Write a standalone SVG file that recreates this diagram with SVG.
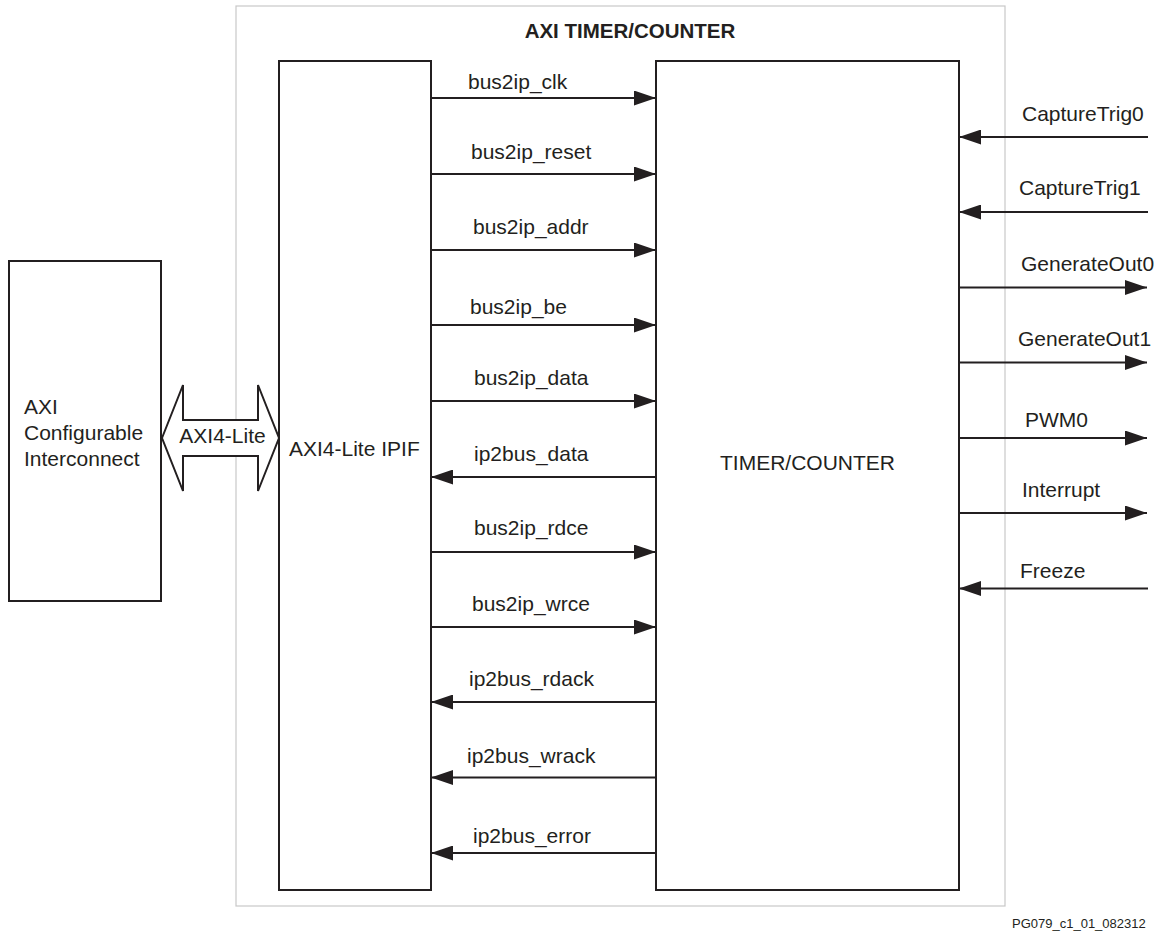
<svg xmlns="http://www.w3.org/2000/svg" width="1165" height="932" viewBox="0 0 1165 932">
<style>
text{font-family:"Liberation Sans",Arial,sans-serif;fill:#231f20}
.lbl{font-size:21px}
.box{fill:none;stroke:#231f20;stroke-width:2}
.wire{stroke:#231f20;stroke-width:2.2;fill:none;marker-end:url(#ah)}
</style>
<defs>
<marker id="ah" markerUnits="userSpaceOnUse" markerWidth="22" markerHeight="15" refX="22" refY="7.5" orient="auto" viewBox="0 0 22 15">
<path d="M0,0 L22,7.5 L0,15 z" fill="#231f20"/>
</marker>
</defs>
<rect width="1165" height="932" fill="#fff"/>
<g id="outer">
<rect x="236" y="6" width="769" height="900" fill="none" stroke="#c8c8c8" stroke-width="1.2"/>
<text x="630" y="38" text-anchor="middle" font-size="20.5" font-weight="bold">AXI TIMER/COUNTER</text>
</g>
<g id="interconnect">
<rect class="box" x="9" y="261" width="152" height="340"/>
<text class="lbl" x="24" y="414">AXI</text>
<text class="lbl" x="24" y="440">Configurable</text>
<text class="lbl" x="24" y="466">Interconnect</text>
</g>
<g id="ipif">
<rect class="box" x="279" y="61" width="152" height="829"/>
<text class="lbl" x="289" y="456">AXI4-Lite IPIF</text>
</g>
<g id="timer">
<rect class="box" x="656" y="61" width="303" height="829"/>
<text class="lbl" x="807.5" y="470" text-anchor="middle">TIMER/COUNTER</text>
</g>
<g id="connectors">
<g id="axi4lite">
<polygon points="162,438 183,385 183,420 258,420 258,385 279,438 258,491 258,456 183,456 183,491" fill="#fff" stroke="#231f20" stroke-width="2" stroke-linejoin="miter"/>
<text class="lbl" x="222.5" y="443" text-anchor="middle">AXI4-Lite</text>
</g>
<line class="wire" x1="431" y1="98" x2="656" y2="98"/>
<line class="wire" x1="431" y1="174" x2="656" y2="174"/>
<line class="wire" x1="431" y1="250" x2="656" y2="250"/>
<line class="wire" x1="431" y1="325" x2="656" y2="325"/>
<line class="wire" x1="431" y1="401" x2="656" y2="401"/>
<line class="wire" x1="656" y1="477" x2="431" y2="477"/>
<line class="wire" x1="431" y1="552" x2="656" y2="552"/>
<line class="wire" x1="431" y1="627" x2="656" y2="627"/>
<line class="wire" x1="656" y1="702" x2="431" y2="702"/>
<line class="wire" x1="656" y1="777.5" x2="431" y2="777.5"/>
<line class="wire" x1="656" y1="853" x2="431" y2="853"/>
<text class="lbl" x="468" y="89">bus2ip_clk</text>
<text class="lbl" x="471" y="159">bus2ip_reset</text>
<text class="lbl" x="473" y="234">bus2ip_addr</text>
<text class="lbl" x="470" y="314">bus2ip_be</text>
<text class="lbl" x="474" y="385">bus2ip_data</text>
<text class="lbl" x="474" y="461">ip2bus_data</text>
<text class="lbl" x="474" y="535">bus2ip_rdce</text>
<text class="lbl" x="472" y="611">bus2ip_wrce</text>
<text class="lbl" x="469" y="686">ip2bus_rdack</text>
<text class="lbl" x="467" y="763">ip2bus_wrack</text>
<text class="lbl" x="473" y="843">ip2bus_error</text>
<line class="wire" x1="1148" y1="137" x2="959" y2="137"/>
<line class="wire" x1="1148" y1="212" x2="959" y2="212"/>
<line class="wire" x1="959" y1="287.5" x2="1147" y2="287.5"/>
<line class="wire" x1="959" y1="362.5" x2="1147" y2="362.5"/>
<line class="wire" x1="959" y1="438" x2="1147" y2="438"/>
<line class="wire" x1="959" y1="513" x2="1147" y2="513"/>
<line class="wire" x1="1148" y1="588.5" x2="959" y2="588.5"/>
<text class="lbl" x="1022" y="121">CaptureTrig0</text>
<text class="lbl" x="1019" y="195">CaptureTrig1</text>
<text class="lbl" x="1021" y="271">GenerateOut0</text>
<text class="lbl" x="1018" y="346">GenerateOut1</text>
<text class="lbl" x="1025" y="427">PWM0</text>
<text class="lbl" x="1022" y="497">Interrupt</text>
<text class="lbl" x="1020" y="578">Freeze</text>
</g>
<text x="1012" y="928" font-size="13">PG079_c1_01_082312</text>
</svg>
